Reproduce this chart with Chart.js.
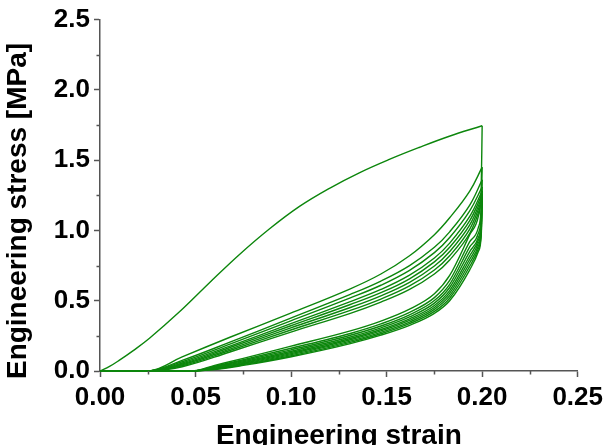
<!DOCTYPE html>
<html>
<head>
<meta charset="utf-8">
<script src="https://cdn.jsdelivr.net/npm/chart.js@4/dist/chart.umd.min.js"></script>
<style>
  html, body { margin: 0; padding: 0; background: #fff; }
  canvas { display: block; }
</style>
</head>
<body>
<canvas id="cyclic" width="608" height="445"></canvas>
<script>
// first loading curve
const loadStrain = [0, 0.005, 0.0102, 0.0172, 0.0259, 0.0416, 0.0573, 0.073, 0.0886, 0.1044, 0.1201, 0.1357, 0.1514, 0.167, 0.1828, 0.2]
const loadStress = [0, 0.0325, 0.077, 0.143, 0.233, 0.421, 0.628, 0.829, 1.01, 1.171, 1.30, 1.41, 1.505, 1.59, 1.67, 1.745]

// reloading curves (upper band)
const reloadStrain = [0, 0.026, 0.043, 0.068, 0.0995, 0.131, 0.147, 0.162, 0.175, 0.183, 0.1935, 0.2]
const reload1 = [0, 0, 0.10, 0.24, 0.41, 0.585, 0.69, 0.82, 0.97, 1.09, 1.28, 1.45]
const reload2 = [0, 0, 0.075, 0.205, 0.375, 0.545, 0.64, 0.75, 0.88, 0.99, 1.18, 1.36]
const reload3 = [0, 0, 0.066, 0.191, 0.355, 0.52, 0.61, 0.716, 0.842, 0.95, 1.14, 1.31]
const reload4 = [0, 0, 0.057, 0.177, 0.335, 0.494, 0.58, 0.682, 0.804, 0.91, 1.10, 1.28]
const reload5 = [0, 0, 0.050, 0.167, 0.32, 0.473, 0.557, 0.656, 0.776, 0.88, 1.07, 1.26]
const reload6 = [0, 0, 0.044, 0.156, 0.305, 0.452, 0.535, 0.631, 0.747, 0.85, 1.04, 1.24]
const reload7 = [0, 0, 0.037, 0.146, 0.29, 0.431, 0.512, 0.605, 0.719, 0.82, 1.01, 1.22]
const reload8 = [0, 0, 0.03, 0.135, 0.275, 0.41, 0.49, 0.58, 0.69, 0.79, 0.98, 1.20]

// unloading curves (lower band)
const unloadStrain = [0.2, 0.1995, 0.198, 0.1935, 0.183, 0.175, 0.162, 0.147, 0.131, 0.0995, 0.075, 0.06, 0.048, 0]
const unload0 = [1.745, 1.30, 1.10, 0.97, 0.68, 0.55, 0.44, 0.355, 0.285, 0.175, 0.09, 0.04, 0, 0]
const unload1 = [1.45, 1.17, 1.02, 0.92, 0.644, 0.522, 0.417, 0.335, 0.267, 0.16, 0.08, 0.034, 0, 0]
const unload2 = [1.36, 1.11, 0.98, 0.883, 0.617, 0.501, 0.40, 0.32, 0.254, 0.149, 0.073, 0.03, 0, 0]
const unload3 = [1.31, 1.07, 0.95, 0.85, 0.594, 0.483, 0.385, 0.307, 0.242, 0.139, 0.066, 0.026, 0, 0]
const unload4 = [1.28, 1.04, 0.93, 0.82, 0.572, 0.466, 0.371, 0.295, 0.231, 0.13, 0.06, 0.022, 0, 0]
const unload5 = [1.26, 1.02, 0.91, 0.795, 0.554, 0.452, 0.36, 0.285, 0.222, 0.122, 0.055, 0.019, 0, 0]
const unload6 = [1.24, 1.00, 0.89, 0.77, 0.536, 0.438, 0.348, 0.275, 0.213, 0.115, 0.05, 0.016, 0, 0]
const unload7 = [1.22, 0.98, 0.87, 0.745, 0.518, 0.424, 0.337, 0.265, 0.204, 0.107, 0.045, 0.013, 0, 0]
const unload8 = [1.20, 0.96, 0.85, 0.72, 0.50, 0.41, 0.325, 0.255, 0.195, 0.10, 0.04, 0.01, 0, 0]

const xMinorTicks = [0.025, 0.075, 0.125, 0.175, 0.225]
const yMinorTicks = [0.25, 0.75, 1.25, 1.75, 2.25]

const green = 'rgb(12, 134, 12)'
const axisColor = '#555'
const labelFont = { family: 'Liberation Sans, Arial, sans-serif', size: 26, weight: 'bold' }

function pts(xs, ys) {
    return xs.map((x, i) => ({ x: x, y: ys[i] }))
}

// loading branches are smoothed with a bezier, unloading ones with monotone
// so the sharp turn at 0.20 does not overshoot
function curve(xs, ys, smooth) {
    return {
        data: pts(xs, ys),
        borderColor: green,
        borderWidth: 1.4,
        pointRadius: 0,
        showLine: true,
        fill: false,
        tension: smooth === 'monotone' ? 0 : 0.4,
        cubicInterpolationMode: smooth === 'monotone' ? 'monotone' : 'default',
        clip: 4
    }
}

const reloads = [reload1, reload2, reload3, reload4, reload5, reload6, reload7, reload8]
const unloads = [unload0, unload1, unload2, unload3, unload4, unload5, unload6, unload7, unload8]

const datasets = [curve(loadStrain, loadStress)]
unloads.forEach(u => datasets.push(curve(unloadStrain, u, 'monotone')))
reloads.forEach(r => datasets.push(curve(reloadStrain, r)))

// small ticks between the labelled ones, and the rotated y title
const extras = {
    id: 'extras',
    afterDraw(chart) {
        const ctx = chart.ctx
        const xs = chart.scales.x
        const ys = chart.scales.y
        ctx.save()
        ctx.strokeStyle = axisColor
        ctx.lineWidth = 1.5
        ctx.beginPath()
        xMinorTicks.forEach(v => {
            const px = Math.round(xs.getPixelForValue(v)) + 0.5
            ctx.moveTo(px, ys.bottom)
            ctx.lineTo(px, ys.bottom + 3.5)
        })
        yMinorTicks.forEach(v => {
            const py = Math.round(ys.getPixelForValue(v)) + 0.5
            ctx.moveTo(xs.left, py)
            ctx.lineTo(xs.left - 3.5, py)
        })
        ctx.stroke()

        ctx.fillStyle = '#000'
        ctx.font = 'bold 28px "Liberation Sans", Arial, sans-serif'
        ctx.textAlign = 'center'
        ctx.textBaseline = 'middle'
        ctx.translate(18, 211)
        ctx.rotate(-Math.PI / 2)
        ctx.fillText('Engineering stress [MPa]', 0, 0)
        ctx.restore()
    }
}

const config = {
    type: 'scatter',
    data: { datasets: datasets },
    options: {
        responsive: false,
        animation: false,
        devicePixelRatio: 1,
        layout: { padding: { top: 15, right: 30, left: 0, bottom: 0 } },
        plugins: { legend: { display: false }, tooltip: { enabled: false } },
        scales: {
            x: {
                type: 'linear',
                min: 0,
                max: 0.25,
                afterFit: s => { s.height = 74 },
                border: { color: axisColor, width: 1.5 },
                grid: { drawOnChartArea: false, tickLength: 6, tickColor: axisColor, tickWidth: 1.5 },
                ticks: {
                    stepSize: 0.05,
                    color: '#000',
                    font: labelFont,
                    padding: 5,
                    maxRotation: 0,
                    callback: v => v.toFixed(2)
                },
                title: {
                    display: true,
                    text: 'Engineering strain',
                    color: '#000',
                    font: { family: 'Liberation Sans, Arial, sans-serif', size: 28, weight: 'bold', lineHeight: 1.2 },
                    padding: { top: 0, bottom: -8 }
                }
            },
            y: {
                type: 'linear',
                min: 0,
                max: 2.5,
                afterFit: s => { s.width = 100 },
                border: { color: axisColor, width: 1.5 },
                grid: { drawOnChartArea: false, tickLength: 6, tickColor: axisColor, tickWidth: 1.5 },
                ticks: {
                    stepSize: 0.5,
                    color: '#000',
                    font: labelFont,
                    padding: 4,
                    callback: v => v.toFixed(1)
                }
            }
        }
    },
    plugins: [extras]
}

new Chart(document.getElementById('cyclic'), config)
</script>
</body>
</html>
